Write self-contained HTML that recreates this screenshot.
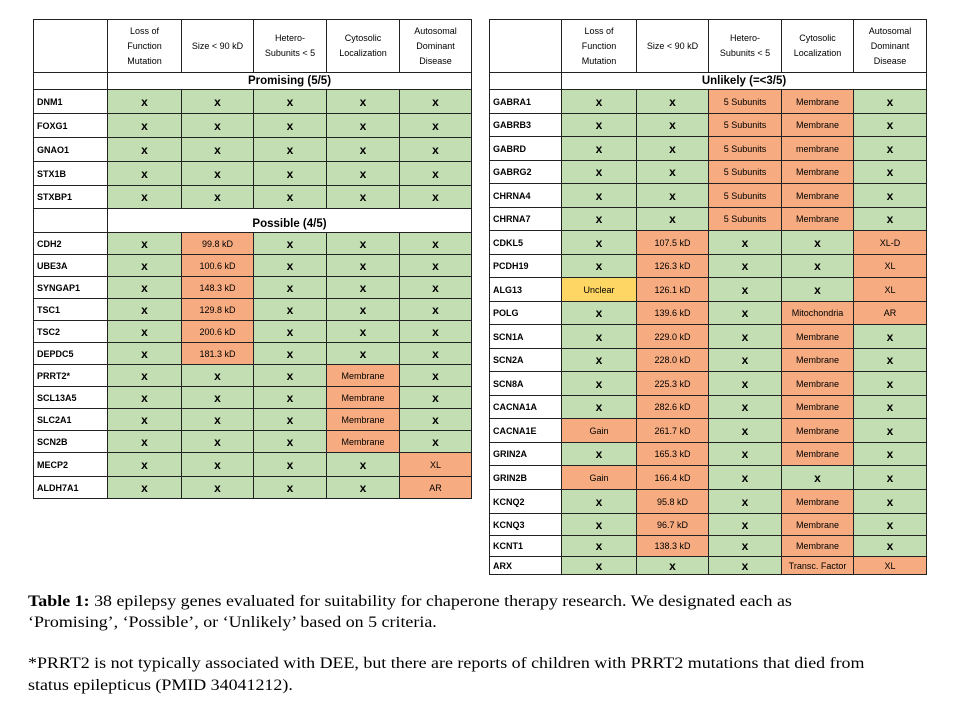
<!DOCTYPE html>
<html><head><meta charset="utf-8"><style>
body{margin:0;width:958px;height:722px;background:#fff;position:relative;font-family:"Liberation Sans",sans-serif;overflow:hidden}
table{position:absolute;border-collapse:collapse;table-layout:fixed;top:19px}
td{border:1.6px solid #222;padding:0;text-align:center;font-size:9px;color:#000;overflow:hidden;white-space:nowrap}
td.n{text-align:left;padding-left:3px;font-weight:bold;background:#fff}
.g{background:#c4deb3}.o{background:#f6ab80}.y{background:#fdd663}
.x{font-weight:bold;font-size:12px}
.h td{font-size:9px;line-height:15px;white-space:normal;background:#fff}
.s td{font-size:11.5px;font-weight:bold;background:#fff}
#L{left:33px;width:438px}#R{left:489px;width:437px}
.cap{position:absolute;left:28px;font-family:"Liberation Serif",serif;font-size:16px;color:#000;white-space:nowrap;transform:scaleX(1.12);transform-origin:0 0}
</style></head><body>
<table id="L">
<colgroup><col style="width:74px"><col style="width:74px"><col style="width:72px"><col style="width:73px"><col style="width:73px"><col style="width:72px"></colgroup>
<tr class="h" style="height:53px"><td></td><td>Loss of<br>Function<br>Mutation</td><td>Size &lt; 90 kD</td><td>Hetero-<br>Subunits &lt; 5</td><td>Cytosolic<br>Localization</td><td>Autosomal<br>Dominant<br>Disease</td></tr>
<tr class="s" style="height:17px"><td></td><td colspan="5">Promising (5/5)</td></tr>
<tr style="height:24px"><td class="n">DNM1</td><td class="g x">x</td><td class="g x">x</td><td class="g x">x</td><td class="g x">x</td><td class="g x">x</td></tr>
<tr style="height:24px"><td class="n">FOXG1</td><td class="g x">x</td><td class="g x">x</td><td class="g x">x</td><td class="g x">x</td><td class="g x">x</td></tr>
<tr style="height:24px"><td class="n">GNAO1</td><td class="g x">x</td><td class="g x">x</td><td class="g x">x</td><td class="g x">x</td><td class="g x">x</td></tr>
<tr style="height:24px"><td class="n">STX1B</td><td class="g x">x</td><td class="g x">x</td><td class="g x">x</td><td class="g x">x</td><td class="g x">x</td></tr>
<tr style="height:23px"><td class="n">STXBP1</td><td class="g x">x</td><td class="g x">x</td><td class="g x">x</td><td class="g x">x</td><td class="g x">x</td></tr>
<tr class="s" style="height:24px"><td></td><td colspan="5" style="padding-top:6px">Possible (4/5)</td></tr>
<tr style="height:22px"><td class="n">CDH2</td><td class="g x">x</td><td class="o">99.8 kD</td><td class="g x">x</td><td class="g x">x</td><td class="g x">x</td></tr>
<tr style="height:22px"><td class="n">UBE3A</td><td class="g x">x</td><td class="o">100.6 kD</td><td class="g x">x</td><td class="g x">x</td><td class="g x">x</td></tr>
<tr style="height:22px"><td class="n">SYNGAP1</td><td class="g x">x</td><td class="o">148.3 kD</td><td class="g x">x</td><td class="g x">x</td><td class="g x">x</td></tr>
<tr style="height:22px"><td class="n">TSC1</td><td class="g x">x</td><td class="o">129.8 kD</td><td class="g x">x</td><td class="g x">x</td><td class="g x">x</td></tr>
<tr style="height:22px"><td class="n">TSC2</td><td class="g x">x</td><td class="o">200.6 kD</td><td class="g x">x</td><td class="g x">x</td><td class="g x">x</td></tr>
<tr style="height:22px"><td class="n">DEPDC5</td><td class="g x">x</td><td class="o">181.3 kD</td><td class="g x">x</td><td class="g x">x</td><td class="g x">x</td></tr>
<tr style="height:22px"><td class="n">PRRT2*</td><td class="g x">x</td><td class="g x">x</td><td class="g x">x</td><td class="o">Membrane</td><td class="g x">x</td></tr>
<tr style="height:22px"><td class="n">SCL13A5</td><td class="g x">x</td><td class="g x">x</td><td class="g x">x</td><td class="o">Membrane</td><td class="g x">x</td></tr>
<tr style="height:22px"><td class="n">SLC2A1</td><td class="g x">x</td><td class="g x">x</td><td class="g x">x</td><td class="o">Membrane</td><td class="g x">x</td></tr>
<tr style="height:22px"><td class="n">SCN2B</td><td class="g x">x</td><td class="g x">x</td><td class="g x">x</td><td class="o">Membrane</td><td class="g x">x</td></tr>
<tr style="height:24px"><td class="n">MECP2</td><td class="g x">x</td><td class="g x">x</td><td class="g x">x</td><td class="g x">x</td><td class="o">XL</td></tr>
<tr style="height:22px"><td class="n">ALDH7A1</td><td class="g x">x</td><td class="g x">x</td><td class="g x">x</td><td class="g x">x</td><td class="o">AR</td></tr>
</table>

<table id="R">
<colgroup><col style="width:72px"><col style="width:75px"><col style="width:72px"><col style="width:73px"><col style="width:72px"><col style="width:73px"></colgroup>
<tr class="h" style="height:53px"><td></td><td>Loss of<br>Function<br>Mutation</td><td>Size &lt; 90 kD</td><td>Hetero-<br>Subunits &lt; 5</td><td>Cytosolic<br>Localization</td><td>Autosomal<br>Dominant<br>Disease</td></tr>
<tr class="s" style="height:17px"><td></td><td colspan="5">Unlikely (=&lt;3/5)</td></tr>
<tr style="height:24px"><td class="n">GABRA1</td><td class="g x">x</td><td class="g x">x</td><td class="o">5 Subunits</td><td class="o">Membrane</td><td class="g x">x</td></tr>
<tr style="height:23px"><td class="n">GABRB3</td><td class="g x">x</td><td class="g x">x</td><td class="o">5 Subunits</td><td class="o">Membrane</td><td class="g x">x</td></tr>
<tr style="height:24px"><td class="n">GABRD</td><td class="g x">x</td><td class="g x">x</td><td class="o">5 Subunits</td><td class="o">membrane</td><td class="g x">x</td></tr>
<tr style="height:23px"><td class="n">GABRG2</td><td class="g x">x</td><td class="g x">x</td><td class="o">5 Subunits</td><td class="o">Membrane</td><td class="g x">x</td></tr>
<tr style="height:24px"><td class="n">CHRNA4</td><td class="g x">x</td><td class="g x">x</td><td class="o">5 Subunits</td><td class="o">Membrane</td><td class="g x">x</td></tr>
<tr style="height:23px"><td class="n">CHRNA7</td><td class="g x">x</td><td class="g x">x</td><td class="o">5 Subunits</td><td class="o">Membrane</td><td class="g x">x</td></tr>
<tr style="height:24px"><td class="n">CDKL5</td><td class="g x">x</td><td class="o">107.5 kD</td><td class="g x">x</td><td class="g x">x</td><td class="o">XL-D</td></tr>
<tr style="height:23px"><td class="n">PCDH19</td><td class="g x">x</td><td class="o">126.3 kD</td><td class="g x">x</td><td class="g x">x</td><td class="o">XL</td></tr>
<tr style="height:24px"><td class="n">ALG13</td><td class="y">Unclear</td><td class="o">126.1 kD</td><td class="g x">x</td><td class="g x">x</td><td class="o">XL</td></tr>
<tr style="height:23px"><td class="n">POLG</td><td class="g x">x</td><td class="o">139.6 kD</td><td class="g x">x</td><td class="o">Mitochondria</td><td class="o">AR</td></tr>
<tr style="height:24px"><td class="n">SCN1A</td><td class="g x">x</td><td class="o">229.0 kD</td><td class="g x">x</td><td class="o">Membrane</td><td class="g x">x</td></tr>
<tr style="height:23px"><td class="n">SCN2A</td><td class="g x">x</td><td class="o">228.0 kD</td><td class="g x">x</td><td class="o">Membrane</td><td class="g x">x</td></tr>
<tr style="height:24px"><td class="n">SCN8A</td><td class="g x">x</td><td class="o">225.3 kD</td><td class="g x">x</td><td class="o">Membrane</td><td class="g x">x</td></tr>
<tr style="height:23px"><td class="n">CACNA1A</td><td class="g x">x</td><td class="o">282.6 kD</td><td class="g x">x</td><td class="o">Membrane</td><td class="g x">x</td></tr>
<tr style="height:24px"><td class="n">CACNA1E</td><td class="o">Gain</td><td class="o">261.7 kD</td><td class="g x">x</td><td class="o">Membrane</td><td class="g x">x</td></tr>
<tr style="height:23px"><td class="n">GRIN2A</td><td class="g x">x</td><td class="o">165.3 kD</td><td class="g x">x</td><td class="o">Membrane</td><td class="g x">x</td></tr>
<tr style="height:24px"><td class="n">GRIN2B</td><td class="o">Gain</td><td class="o">166.4 kD</td><td class="g x">x</td><td class="g x">x</td><td class="g x">x</td></tr>
<tr style="height:24px"><td class="n">KCNQ2</td><td class="g x">x</td><td class="o">95.8 kD</td><td class="g x">x</td><td class="o">Membrane</td><td class="g x">x</td></tr>
<tr style="height:22px"><td class="n">KCNQ3</td><td class="g x">x</td><td class="o">96.7 kD</td><td class="g x">x</td><td class="o">Membrane</td><td class="g x">x</td></tr>
<tr style="height:21px"><td class="n">KCNT1</td><td class="g x">x</td><td class="o">138.3 kD</td><td class="g x">x</td><td class="o">Membrane</td><td class="g x">x</td></tr>
<tr style="height:18px"><td class="n">ARX</td><td class="g x">x</td><td class="g x">x</td><td class="g x">x</td><td class="o">Transc. Factor</td><td class="o">XL</td></tr>
</table>

<div class="cap" style="top:593px"><b>Table 1:</b> 38 epilepsy genes evaluated for suitability for chaperone therapy research. We designated each as</div>
<div class="cap" style="top:614px">‘Promising’, ‘Possible’, or ‘Unlikely’ based on 5 criteria.</div>
<div class="cap" style="top:655px">*PRRT2 is not typically associated with DEE, but there are reports of children with PRRT2 mutations that died from</div>
<div class="cap" style="top:677px">status epilepticus (PMID 34041212).</div>
</body></html>
